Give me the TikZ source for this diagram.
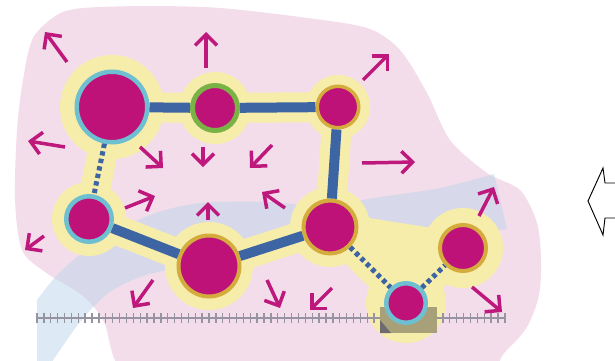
\documentclass[tikz,border=0pt]{standalone}
\usepackage{tikz}
\usetikzlibrary{arrows.meta}
\usepackage{color}
\definecolor{blobpink}{RGB}{243,221,234}
\definecolor{bandblue}{RGB}{188,214,236}
\definecolor{glowyellow}{RGB}{247,237,170}
\definecolor{molfill}{RGB}{190,18,120}
\definecolor{ringcyan}{RGB}{110,192,208}
\definecolor{ringgreen}{RGB}{122,178,70}
\definecolor{ringgold}{RGB}{212,172,62}
\definecolor{bondblue}{RGB}{61,100,163}
\definecolor{pushred}{RGB}{190,24,125}
\definecolor{rulergray}{RGB}{150,148,160}
\definecolor{padolive}{RGB}{168,160,120}
\definecolor{padshade}{RGB}{110,106,112}
\tikzset{%
  mol/.style      = {circle, fill=molfill, inner sep=0pt}, % molecule
  bond/.style     = {draw=bondblue, line width=0.3cm}, % strong link
  weakbond/.style = {draw=bondblue, line width=0.15cm,
    dash pattern=on 0.13cm off 0.1cm}, % weak link
  glow/.style     = {draw=glowyellow, line width=0.9cm, line cap=round,
    line join=round},
  push/.style     = {->, draw=pushred, line width=0.105cm},
  ruler/.style    = {draw=rulergray, line width=0.04cm}
}
\begin{document}
\begin{tikzpicture}[x=0.03cm, y=-0.03cm, >={Straight Barb[length=3.3mm, width=6.6mm]}]
        \useasboundingbox (0,0) rectangle (615,360);
        \clip (0,0) rectangle (615,360);
        \coordinate (c1) at (112,107);
        \coordinate (c2) at (215,108);
        \coordinate (c3) at (338,107);
        \coordinate (c4) at (89,219);
        \coordinate (c5) at (209,266);
        \coordinate (c6) at (330,227);
        \coordinate (c7) at (463,248);
        \coordinate (c8) at (406,303);
        % membrane and groove
        \fill[blobpink] plot[smooth cycle] coordinates {(23,80) (33,38) (57,15)
          (83,8) (150,6) (220,8) (300,17) (367,28) (400,50) (427,93) (450,140)
          (487,173) (520,190) (537,223) (541,260) (539,295) (527,327) (505,352)
          (470,385) (300,395) (150,395) (116,362) (104,322) (83,296) (45,272)
          (22,250) (15,200) (17,130)};
        \fill[bandblue, opacity=0.5] (37,365) -- plot[smooth] coordinates {(37,300)
          (60,272) (100,240) (150,215) (200,203) (270,202) (320,206) (380,197)
          (440,188) (494,174)} -- (507,229) -- plot[smooth] coordinates {(450,236)
          (380,243) (300,252) (220,262) (150,274) (110,292) (80,322) (50,365)}
          -- cycle;
        % glow round the cluster
        \fill[glowyellow] (c1) circle (1.56cm) (c2) circle (1.08cm)
          (c3) circle (0.96cm) (c4) circle (1.11cm) (c5) circle (1.32cm)
          (c6) circle (1.2cm) (c7) circle (1.2cm) (c8) circle (1.2cm);
        \fill[glowyellow] (c6) -- (c7) -- (c8) -- cycle;
        \draw[glow] (c4) -- (c1) -- (c2) -- (c3) -- (c6) -- (c5) -- (c4);
        \draw[glow] (c6) -- (c8) -- (c7) -- cycle;
        % ruler and pad
        \draw[ruler] (37,318) -- (505,318);
        \foreach \i in {0,...,68}
          \draw[ruler] (37+\i*6.88,313) -- ++(0,10);
        \fill[padolive] (380,307) rectangle (437,333);
        \fill[padshade] (380,320) -- (380,333) -- (391,333) -- cycle;
        % molecules
        \draw
        node at(c1)[mol, draw=ringcyan, line width=0.135cm, minimum size=2.115cm, name=Mol1]{}
        node at(c2)[mol, draw=ringgreen, line width=0.15cm, minimum size=1.35cm, name=Mol2]{}
        node at(c3)[mol, draw=ringgold, line width=0.105cm, minimum size=1.245cm, name=Mol3]{}
        node at(c4)[mol, draw=ringcyan, line width=0.135cm, minimum size=1.365cm, name=Mol4]{}
        node at(c5)[mol, draw=ringgold, line width=0.12cm, minimum size=1.83cm, name=Mol5]{}
        node at(c6)[mol, draw=ringgold, line width=0.12cm, minimum size=1.59cm, name=Mol6]{}
        node at(c7)[mol, draw=ringgold, line width=0.12cm, minimum size=1.38cm, name=Mol7]{}
        node at(c8)[mol, draw=ringcyan, line width=0.135cm, minimum size=1.185cm, name=Mol8]{};
        \draw[bond] (Mol1) -- (Mol2);
        \draw[bond] (Mol2) -- (Mol3);
        \draw[bond] (Mol3) -- (Mol6);
        \draw[bond] (Mol4) -- (Mol5);
        \draw[bond] (Mol5) -- (Mol6);
        \draw[weakbond] (Mol1) -- (Mol4);
        \draw[weakbond] (Mol6) -- (Mol8);
        \draw[weakbond] (Mol8) -- (Mol7);
        % forces
        \foreach \xa/\ya/\xb/\yb in {67/62/45/32, 206/68/206/32, 363/80/389/54,
          65/147/28/141, 140/147/163/168, 203/147/203/167, 272/145/250/168,
          125/208/155/196, 208/220/208/202, 285/208/262/192, 362/163/415/162,
          44/236/25/250, 153/280/133/308, 267/280/280/308, 332/288/310/310,
          479/216/494/187, 472/287/502/312}
          \draw[push] (\xa,\ya) -- (\xb,\yb);
        % hollow arrow at the edge
        \draw[line width=0.8pt] (617,183) -- (605,183) -- (603,168) -- (588,201)
          -- (603,235) -- (605,218) -- (617,218);
    \end{tikzpicture}
\end{document}
